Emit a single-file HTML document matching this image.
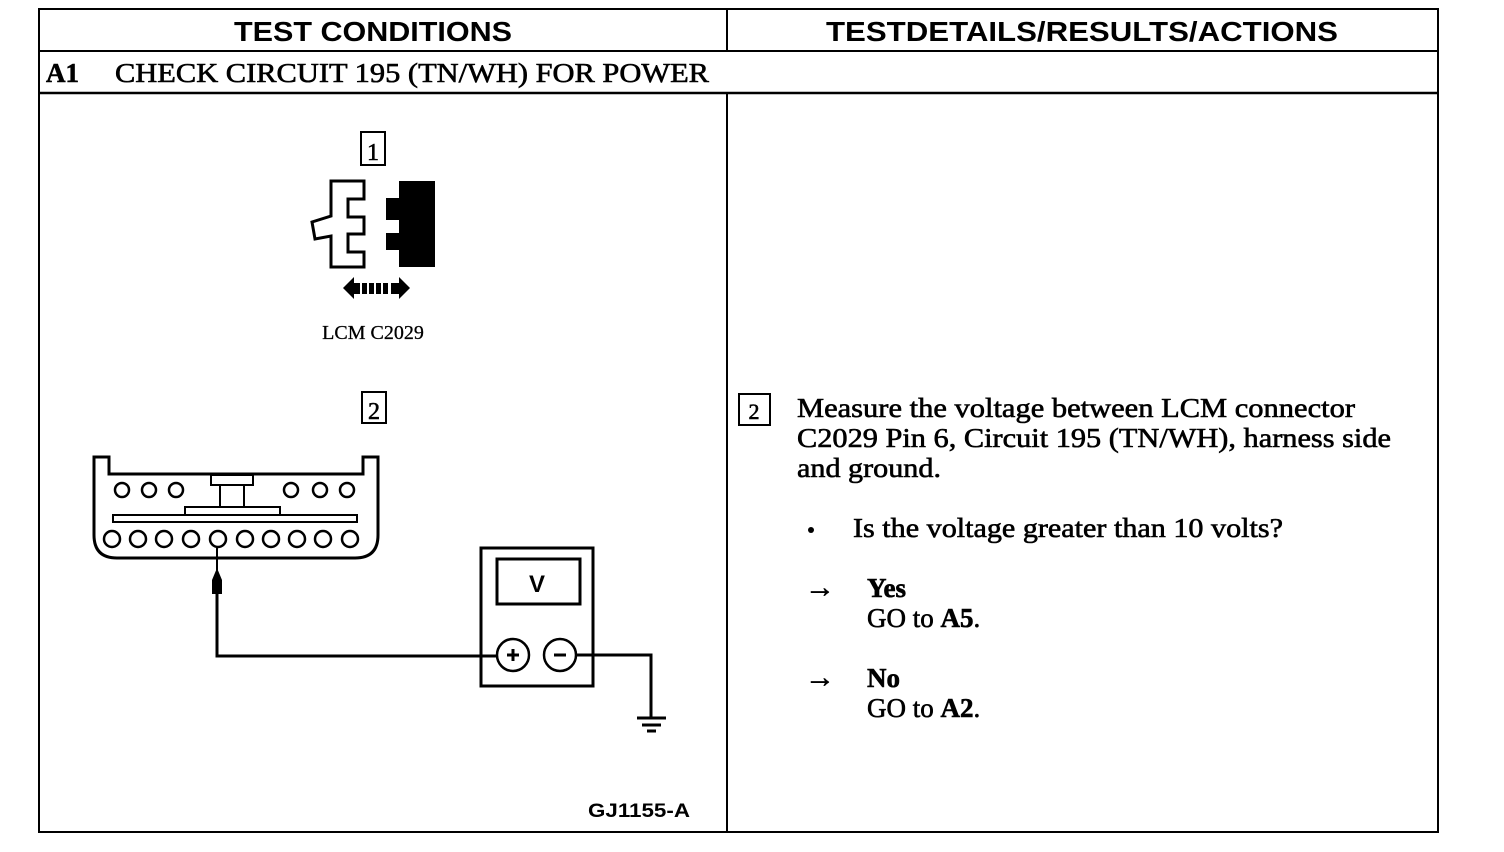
<!DOCTYPE html>
<html><head><meta charset="utf-8"><style>
html,body{margin:0;padding:0;background:#fff;width:1504px;height:852px;overflow:hidden}
svg{display:block}
.s{font-family:"Liberation Serif",serif;fill:#000;stroke:#000;stroke-width:0.6}
.h{font-family:"Liberation Sans",sans-serif;font-weight:bold;fill:#000}
</style></head><body>
<svg width="1504" height="852" viewBox="0 0 1504 852" xmlns="http://www.w3.org/2000/svg">
<g stroke="#000" fill="none" stroke-width="2">
<rect x="39" y="9" width="1399" height="823"/>
<line x1="39" y1="51" x2="1438" y2="51"/>
<line x1="39" y1="93" x2="1438" y2="93" stroke-width="2.5"/>
<line x1="727" y1="9" x2="727" y2="51"/>
<line x1="727" y1="93" x2="727" y2="832"/>
</g>
<text class="h" x="373" y="41" font-size="28" text-anchor="middle" textLength="278" lengthAdjust="spacingAndGlyphs">TEST CONDITIONS</text>
<text class="h" x="1082" y="41" font-size="28" text-anchor="middle" textLength="512" lengthAdjust="spacingAndGlyphs">TESTDETAILS/RESULTS/ACTIONS</text>
<text class="s" x="46" y="82" font-size="27" font-weight="bold">A1</text>
<text class="s" x="115" y="82" font-size="27" textLength="594" lengthAdjust="spacingAndGlyphs">CHECK CIRCUIT 195 (TN/WH) FOR POWER</text>

<!-- connector 1 -->
<rect x="361" y="132" width="24" height="33" fill="none" stroke="#000" stroke-width="2"/>
<text class="s" x="373" y="160" font-size="24" text-anchor="middle">1</text>
<path d="M331,181 H364 V199 H348 V217 H364 V234 H348 V252 H364 V267 H331 V236 L315,239 L312,222 L331,216 Z" fill="none" stroke="#000" stroke-width="3"/>
<path d="M399,181 H435 V267 H399 V250 H386 V233 H399 V220 H386 V198 H399 Z" fill="#000"/>
<path d="M343,288 L354,277 V299 Z M410,288 L399,277 V299 Z" fill="#000"/>
<g fill="#000"><rect x="354" y="283" width="6" height="11"/><rect x="362" y="283" width="5" height="11"/><rect x="369" y="283" width="5" height="11"/><rect x="376" y="283" width="5" height="11"/><rect x="383" y="283" width="5" height="11"/><rect x="391" y="283" width="8" height="11"/></g>
<text class="s" x="373" y="339" font-size="20" text-anchor="middle" style="stroke-width:0.3">LCM C2029</text>

<!-- connector 2 -->
<rect x="362" y="392" width="24" height="31" fill="none" stroke="#000" stroke-width="2"/>
<text class="s" x="374" y="419" font-size="24" text-anchor="middle">2</text>
<path d="M94,457 H109 V474 H363 V457 H378 V535 Q378,558 355,558 H117 Q94,558 94,535 Z" fill="none" stroke="#000" stroke-width="3"/>
<rect x="211" y="475" width="42" height="10" fill="none" stroke="#000" stroke-width="2"/>
<rect x="220" y="485" width="24" height="22" fill="none" stroke="#000" stroke-width="2"/>
<rect x="185" y="507" width="95" height="8" fill="none" stroke="#000" stroke-width="2"/>
<rect x="113" y="515" width="244" height="7" fill="none" stroke="#000" stroke-width="2"/>
<g fill="none" stroke="#000" stroke-width="2.5">
<circle cx="122" cy="490" r="7"/><circle cx="149" cy="490" r="7"/><circle cx="176" cy="490" r="7"/>
<circle cx="291" cy="490" r="7"/><circle cx="320" cy="490" r="7"/><circle cx="347" cy="490" r="7"/>
<circle cx="112" cy="539" r="8"/><circle cx="138" cy="539" r="8"/><circle cx="164" cy="539" r="8"/><circle cx="191" cy="539" r="8"/><circle cx="218" cy="539" r="8"/><circle cx="245" cy="539" r="8"/><circle cx="271" cy="539" r="8"/><circle cx="297" cy="539" r="8"/><circle cx="323" cy="539" r="8"/><circle cx="350" cy="539" r="8"/>
</g>
<line x1="217" y1="547" x2="217" y2="570" stroke="#000" stroke-width="2"/>
<path d="M217,568 L222,580 V594 H212 V580 Z" fill="#000"/>
<polyline points="217,594 217,656 498,656" fill="none" stroke="#000" stroke-width="3"/>

<!-- meter -->
<rect x="481" y="548" width="112" height="138" fill="none" stroke="#000" stroke-width="3"/>
<rect x="497" y="559" width="83" height="45" fill="none" stroke="#000" stroke-width="3"/>
<text class="h" x="537" y="592" font-size="24" text-anchor="middle">V</text>
<circle cx="513" cy="655" r="16" fill="none" stroke="#000" stroke-width="2.5"/>
<circle cx="560" cy="655" r="16" fill="none" stroke="#000" stroke-width="2.5"/>
<path d="M507,655 H519 M513,649 V661" stroke="#000" stroke-width="3"/>
<path d="M554,655 H566" stroke="#000" stroke-width="3"/>
<polyline points="576,655 651,655 651,717" fill="none" stroke="#000" stroke-width="3"/>
<path d="M637,718 H666 M642,725 H661 M647,731 H656" stroke="#000" stroke-width="3"/>

<text class="h" x="588" y="817" font-size="19" textLength="102" lengthAdjust="spacingAndGlyphs">GJ1155-A</text>

<!-- right text -->
<rect x="739" y="394" width="31" height="31" fill="none" stroke="#000" stroke-width="2"/>
<text class="s" x="754" y="419" font-size="22" text-anchor="middle">2</text>
<text class="s" x="797" y="417" font-size="27" textLength="558" lengthAdjust="spacingAndGlyphs">Measure the voltage between LCM connector</text>
<text class="s" x="797" y="447" font-size="27" textLength="594" lengthAdjust="spacingAndGlyphs">C2029 Pin 6, Circuit 195 (TN/WH), harness side</text>
<text class="s" x="797" y="477" font-size="27" textLength="144" lengthAdjust="spacingAndGlyphs">and ground.</text>
<circle cx="811" cy="530" r="3" fill="#000"/>
<text class="s" x="853" y="537" font-size="27" textLength="430" lengthAdjust="spacingAndGlyphs">Is the voltage greater than 10 volts?</text>
<text class="s" x="805" y="597" font-size="30" textLength="30" lengthAdjust="spacingAndGlyphs">→</text>
<text class="s" x="867" y="597" font-size="27" font-weight="bold">Yes</text>
<text class="s" x="867" y="627" font-size="27">GO to <tspan font-weight="bold">A5</tspan>.</text>
<text class="s" x="805" y="687" font-size="30" textLength="30" lengthAdjust="spacingAndGlyphs">→</text>
<text class="s" x="867" y="687" font-size="27" font-weight="bold">No</text>
<text class="s" x="867" y="717" font-size="27">GO to <tspan font-weight="bold">A2</tspan>.</text>
</svg>
</body></html>
